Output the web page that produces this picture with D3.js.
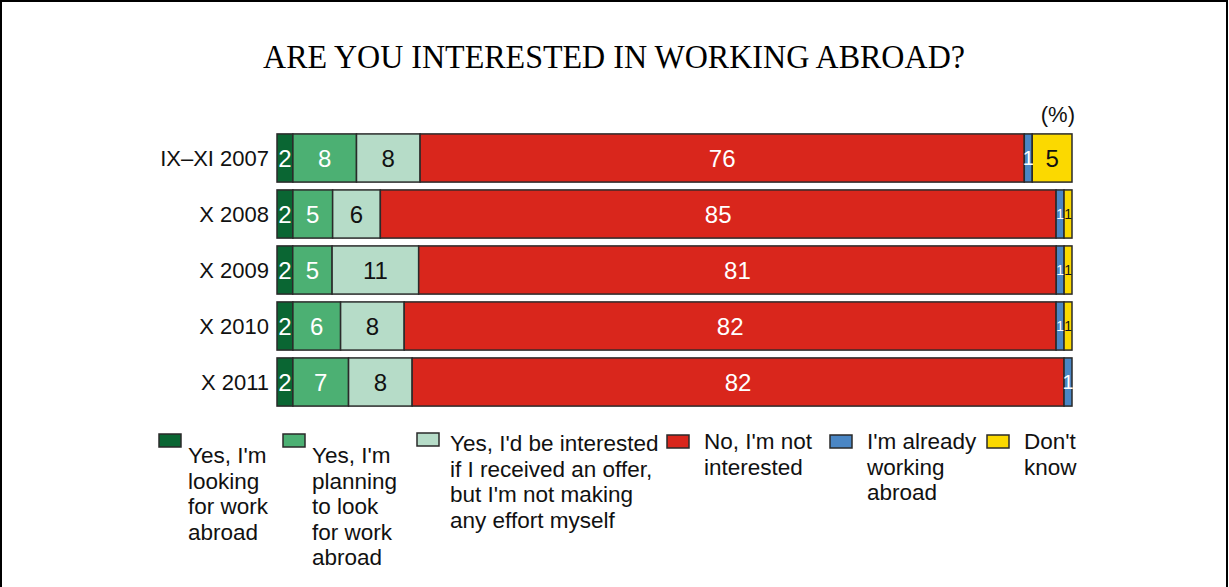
<!DOCTYPE html>
<html>
<head>
<meta charset="utf-8">
<script src="https://cdn.jsdelivr.net/npm/d3@7"></script>
<style>
  html, body { margin: 0; padding: 0; background: #fff; }
  svg { display: block; }
</style>
</head>
<body>
<svg id="chart" width="1229" height="587"></svg>
<script>
// ---- DATA ----
const categories = ["IX\u2013XI 2007", "X 2008", "X 2009", "X 2010", "X 2011"];
const seriesKeys = ["looking", "planning", "interested", "notInterested", "working", "dontKnow"];
const looking       = [2, 2, 2, 2, 2];
const planning      = [8, 5, 5, 6, 7];
const interested    = [8, 6, 11, 8, 8];
const notInterested = [76, 85, 81, 82, 82];
const working       = [1, 1, 1, 1, 1];
const dontKnow      = [5, 1, 1, 1, 0];
const legendLabels = [
  ["Yes, I'm", "looking", "for work", "abroad"],
  ["Yes, I'm", "planning", "to look", "for work", "abroad"],
  ["Yes, I'd be interested", "if I received an offer,", "but I'm not making", "any effort myself"],
  ["No, I'm not", "interested"],
  ["I'm already", "working", "abroad"],
  ["Don't", "know"]
];
const titleText = "ARE YOU INTERESTED IN WORKING ABROAD?";
const unitText = "(%)";

// ---- STYLE / LAYOUT ----
const colors = ["#0a6633", "#4cb073", "#b6dcc8", "#d9261c", "#4a86c4", "#fbd900"];
const labelColors = ["#fff", "#fff", "#111", "#fff", "#fff", "#111"];
const legendX = [159, 283, 417, 667, 830, 987];
const legendFirstBaseline = [463, 463, 451, 449, 449, 449];
const legendSwatchY = [434, 434, 433, 435, 435, 435];
const font = "'Liberation Sans', Arial, sans-serif";

const svg = d3.select("#chart");

// frame
svg.append("path")
  .attr("d", "M1,587 L1,1 L1227,1 L1227,587")
  .attr("fill", "none").attr("stroke", "#000").attr("stroke-width", 2);

// title
svg.append("text")
  .attr("x", 614).attr("y", 68)
  .attr("text-anchor", "middle")
  .attr("font-family", "'Liberation Serif', 'Times New Roman', serif")
  .attr("font-size", 34)
  .attr("textLength", 702).attr("lengthAdjust", "spacingAndGlyphs")
  .attr("fill", "#000")
  .text(titleText);

const rows = categories.map((c, i) => ({
  cat: c,
  looking: looking[i], planning: planning[i], interested: interested[i],
  notInterested: notInterested[i], working: working[i], dontKnow: dontKnow[i]
}));

const stack = d3.stack().keys(seriesKeys).offset(d3.stackOffsetExpand);
const series = stack(rows);

const x = d3.scaleLinear().domain([0, 1]).range([277, 1072]);
const y = d3.scaleBand().domain(categories).range([130, 410]).paddingInner(0.14).paddingOuter(0.07);

// bars
const g = svg.append("g");
series.forEach((s, si) => {
  g.selectAll(null).data(s).enter().append("rect")
    .attr("x", d => x(d[0]))
    .attr("y", d => y(d.data.cat))
    .attr("width", d => Math.max(0, x(d[1]) - x(d[0])))
    .attr("height", y.bandwidth())
    .attr("fill", colors[si])
    .attr("stroke", d => (d[1] - d[0]) > 0 ? "#2a2a2a" : "none")
    .attr("stroke-width", 1.5);
});
// value labels
const segW = (si, ri) => x(series[si][ri][1]) - x(series[si][ri][0]);
const labelSize = (si, ri) => {
  const w = segW(si, ri);
  if (w >= 12) return 24;
  const nb = [si - 1, si + 1].filter(k => k >= 0 && k < series.length && series[k][ri].data[seriesKeys[k]] > 0);
  const crowded = nb.some(k => segW(k, ri) < 12);
  return crowded ? 14 : 20;
};
series.forEach((s, si) => {
  g.selectAll(null).data(s.map((d, ri) => ({d, ri})).filter(o => o.d.data[s.key] > 0)).enter().append("text")
    .attr("x", o => (x(o.d[0]) + x(o.d[1])) / 2)
    .attr("y", o => y(o.d.data.cat) + y.bandwidth() / 2 + labelSize(si, o.ri) * 0.355)
    .attr("text-anchor", "middle")
    .attr("font-family", font)
    .attr("font-size", o => labelSize(si, o.ri))
    .attr("fill", labelColors[si])
    .text(o => o.d.data[s.key]);
});

// category axis
const yAxis = svg.append("g").attr("transform", "translate(275,0)")
  .call(d3.axisLeft(y).tickSize(0).tickPadding(6));
yAxis.select(".domain").remove();
yAxis.selectAll("text")
  .attr("font-family", font).attr("font-size", 22).attr("fill", "#111")
  .attr("dy", "0.35em");

// unit
svg.append("text")
  .attr("x", 1075).attr("y", 122)
  .attr("text-anchor", "end")
  .attr("font-family", font).attr("font-size", 22).attr("fill", "#111")
  .text(unitText);

// legend
legendLabels.forEach((lines, i) => {
  const lg = svg.append("g");
  lg.append("rect")
    .attr("x", legendX[i]).attr("y", legendSwatchY[i])
    .attr("width", 22).attr("height", 13)
    .attr("fill", colors[i]).attr("stroke", "#2a2a2a").attr("stroke-width", 1.5);
  const t = lg.append("text")
    .attr("font-family", font).attr("font-size", 22.5).attr("fill", "#111");
  lines.forEach((ln, li) => {
    t.append("tspan")
      .attr("x", legendX[i] + (i < 2 ? 29 : (i === 2 ? 33 : 37)))
      .attr("y", legendFirstBaseline[i] + li * 25.5)
      .text(ln);
  });
});
</script>
</body>
</html>
